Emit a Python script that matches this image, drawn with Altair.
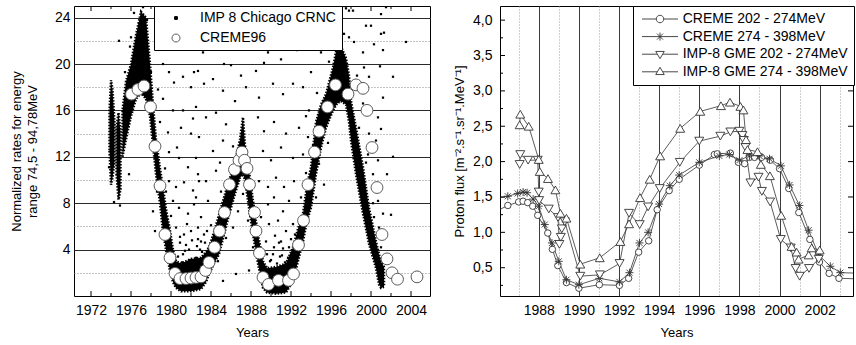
import altair as alt
import pandas as pd

FONT = "Liberation Sans"

# ---------------- left panel: normalized rates 74.5 - 94.78 MeV ----------------
# dense core of the IMP 8 Chicago CRNC record (lower / upper envelope per epoch)
band_year = [1973.85, 1974.0, 1974.15, 1974.35,
             1974.55, 1974.75, 1974.95,
             1975.15, 1975.5, 1976.0, 1976.5, 1977.0, 1977.5, 1977.9, 1978.2, 1978.5,
             1978.9, 1979.2, 1979.5, 1979.85, 1980.2, 1980.5, 1981.0, 1982.0, 1983.0,
             1983.5, 1983.8, 1984.3, 1984.8, 1985.3, 1985.8, 1986.5, 1986.9, 1987.2,
             1987.4, 1987.7, 1988.2, 1988.7, 1989.2, 1989.6, 1990.5, 1991.5, 1992.2,
             1992.7, 1993.2, 1993.6, 1994.0, 1994.5, 1995.0, 1995.5, 1996.2, 1996.6,
             1997.0, 1997.5, 1997.8, 1998.0, 1998.5, 1999.2, 1999.8, 2000.5, 2000.8,
             2001.0, 2001.3]
band_low = [12.5, 9.6, 10.2, 11.5,
            10.5, 8.3, 9.2,
            12.0, 13.5, 15.5, 17.0, 17.5, 17.0, 15.5, 13.0, 10.5,
            8.0, 5.5, 4.0, 2.4, 1.2, 0.7, 0.4, 0.4, 0.6,
            1.2, 1.9, 2.8, 3.6, 5.3, 7.0, 9.1, 10.2, 10.5,
            10.0, 8.2, 5.3, 2.8, 0.7, 0.3, 0.2, 0.3, 1.3,
            3.0, 4.7, 6.5, 7.6, 10.5, 12.8, 14.5, 16.0, 16.6,
            16.8, 16.5, 15.0, 13.4, 10.5, 7.1, 4.5, 2.4, 1.0,
            0.7, 0.8]
band_high = [16.0, 18.6, 17.8, 15.0,
             14.5, 15.8, 14.2,
             16.0, 18.5, 20.0, 22.5, 24.5, 24.0, 20.0, 16.5, 13.5,
             11.0, 9.3, 7.5, 5.9, 4.0, 3.0, 2.8, 3.2, 3.3,
             3.8, 4.2, 5.5, 7.0, 8.5, 9.9, 11.9, 13.5, 15.4,
             13.0, 11.4, 8.2, 5.3, 3.0, 2.4, 2.5, 2.8, 4.2,
             5.8, 7.1, 9.5, 11.1, 15.0, 16.5, 17.4, 19.7, 21.5,
             21.5, 20.5, 19.0, 16.8, 14.5, 11.1, 7.6, 4.7, 3.6,
             3.0, 2.5]
band_seg = ["a"] * 4 + ["b"] * 3 + ["c"] * (len(band_year) - 7)

# isolated IMP 8 Chicago CRNC samples away from the dense core
imp_year = [1973.8, 1974.3, 1974.8, 1975.8, 1974.9, 1975.4, 1976.8, 1976.3, 1977.2, 1977.6,
            1975.9, 1978.0, 1979.2, 1979.8, 1980.3, 1981.2, 1982.0, 1982.7, 1979.2, 1980.2,
            1981.2, 1982.2, 1979.7, 1981.0, 1982.0, 1979.8, 1980.8, 1981.7, 1982.5, 1979.8,
            1980.5, 1981.3, 1982.2, 1982.8, 1980.2, 1980.8, 1981.7, 1982.3, 1983.0, 1980.5,
            1981.3, 1982.0, 1982.7, 1983.3, 1981.2, 1981.8, 1982.5, 1978.2, 1978.4, 1980.9,
            1981.6, 1982.9, 1980.6, 1978.7, 1978.9, 1979.4, 1980.0,
            1983.2, 1985.3, 1986.0, 1989.3, 1991.0, 1989.7, 1982.3, 1983.3, 1984.2, 1985.2,
            1987.5, 1988.5, 1988.8, 1990.2, 1991.2, 1992.2, 1993.2, 1982.5, 1983.5, 1984.5,
            1985.5, 1988.7, 1989.3, 1990.3, 1991.5, 1992.8, 1993.7, 1982.8, 1984.2, 1985.2,
            1989.2, 1990.0, 1991.0, 1992.2, 1993.2, 1982.7, 1983.5, 1984.5, 1988.8, 1989.7,
            1990.5, 1991.3, 1992.3, 1982.5, 1983.7, 1989.7, 1990.3, 1991.2, 1991.8, 1989.0,
            1989.8, 1990.7, 1991.5, 1992.2, 1989.5, 1990.3, 1991.0, 1991.8, 1982.7, 1983.0,
            1986.2, 1986.7, 1987.2, 1987.7, 1988.2, 1985.5, 1984.7, 1986.5, 1985.2, 1987.8,
            1990.9, 1990.0, 1984.0, 1986.8, 1990.8, 1992.6, 1986.4, 1987.0, 1984.9,
            1997.5, 1998.2, 2000.0, 2001.5, 2001.0, 2000.3, 1998.3, 1999.2, 2001.2, 2003.5,
            2002.2, 1999.8, 2001.2, 1999.2, 2000.7, 2001.0, 1999.8, 2000.5, 1999.7, 2000.7,
            2000.2, 2001.0, 2000.7, 2001.2, 2000.3, 2000.8, 2001.3, 1999.8, 2001.0, 2001.5,
            2001.8, 1995.7, 1994.8, 1995.3, 1994.5, 1999.3, 1997.8, 1996.5, 1997.3, 1997.3,
            1997.8, 1999.5, 2001.0, 2001.3, 1994.0, 1995.0, 1993.8, 1994.6, 1995.8, 1996.0,
            2002.0, 2001.6, 2002.2, 1998.6, 2000.9, 1993.5,
            1980.7, 1981.1, 1981.5, 1981.9, 1982.3, 1982.6, 1983.1, 1983.4, 1980.9, 1981.4,
            1982.1, 1982.9, 1983.6, 1989.9, 1990.2, 1990.6, 1991.1, 1991.4, 1991.7, 1992.0,
            1990.4, 1991.2, 1989.6, 1990.8, 1992.4, 1984.0, 1985.0, 1986.0, 1986.2, 1988.0,
            1988.4, 1993.0, 1993.5, 1994.2, 1998.8, 1999.5, 2000.2, 1978.6, 1979.5, 1977.4,
            1976.0]
imp_val = [11.1, 8.1, 22.0, 10.5, 7.8, 19.3, 23.5, 24.4, 24.9, 23.8,
           21.5, 19.3, 20.0, 19.3, 18.4, 18.9, 18.0, 19.4, 17.0, 16.0,
           16.0, 15.3, 14.1, 14.5, 14.0, 12.4, 11.9, 11.1, 11.9, 9.9,
           9.4, 9.8, 9.1, 9.9, 8.2, 7.6, 7.1, 7.9, 6.8, 5.9,
           5.3, 5.6, 4.9, 5.3, 3.6, 4.0, 3.3, 7.3, 5.6, 4.6,
           6.2, 4.0, 12.8, 17.8, 15.0, 11.0, 6.9,
           21.0, 20.0, 19.9, 20.1, 20.4, 21.0, 19.3, 18.3, 18.7, 17.7,
           18.0, 19.4, 17.1, 18.3, 17.4, 18.3, 18.0, 16.3, 15.4, 15.8,
           14.8, 15.4, 14.2, 15.0, 14.0, 14.5, 13.7, 13.7, 12.5, 13.4,
           12.5, 11.7, 12.8, 11.9, 12.2, 10.5, 9.9, 10.8, 9.9, 9.4,
           10.2, 9.4, 9.9, 8.5, 8.2, 7.9, 8.5, 7.3, 8.2, 6.8,
           6.2, 6.5, 5.6, 6.2, 4.7, 4.2, 4.7, 4.2, 5.9, 4.7,
           5.9, 7.3, 8.8, 6.5, 4.2, 5.0, 3.0, 1.9, 1.3, 2.2,
           3.4, 3.1, 22.5, 21.6, 22.9, 21.2, 16.8, 19.0, 11.5,
           24.8, 24.6, 23.3, 24.9, 22.6, 21.7, 21.9, 21.0, 21.2, 21.9,
           18.9, 18.9, 17.1, 16.6, 15.4, 14.4, 14.0, 13.4, 12.2, 11.7,
           10.5, 9.4, 8.2, 7.1, 6.8, 5.9, 5.6, 5.9, 4.2, 3.0,
           2.2, 13.2, 11.4, 9.6, 8.5, 19.7, 22.3, 22.3, 22.6, 25.0,
           24.6, 23.3, 24.3, 22.7, 19.3, 21.0, 16.0, 17.5, 20.2, 23.0,
           7.0, 10.5, 12.0, 19.0, 19.8, 15.5,
           3.4, 2.9, 4.4, 3.1, 2.7, 4.3, 3.8, 4.6, 5.1, 3.9,
           4.8, 3.1, 5.6, 3.0, 3.6, 2.8, 3.5, 2.9, 3.3, 4.9,
           5.2, 4.1, 3.6, 4.6, 5.3, 6.1, 9.0, 11.0, 12.9, 9.5,
           7.3, 8.5, 10.6, 13.0, 14.5, 11.5, 8.0, 9.0, 9.0, 21.5,
           22.3]

# CREME96 model values
c96_year = [1976.05, 1976.7, 1977.3, 1977.95, 1978.4, 1978.9, 1979.4, 1979.9, 1980.4, 1980.9,
            1981.5, 1982.0, 1982.5, 1983.0, 1983.45, 1983.8, 1984.35, 1984.85, 1985.35, 1985.85,
            1986.35, 1986.8, 1987.1, 1987.35, 1987.6, 1987.85, 1988.35, 1988.5, 1988.85, 1989.2,
            1989.75, 1990.75, 1991.75, 1992.25, 1992.75, 1993.25, 1993.7, 1994.35, 1994.8, 1995.65,
            1996.45, 1997.7, 1998.5, 1999.2, 1999.6, 2000.1, 2000.6, 2001.1, 2001.6, 2002.1,
            2002.65, 2004.6]
c96_val = [17.4, 17.8, 18.1, 16.3, 12.9, 9.5, 5.3, 3.3, 1.95, 1.5,
           1.5, 1.55, 1.6, 1.65, 2.2, 2.9, 4.2, 5.6, 7.2, 9.6,
           10.9, 11.7, 12.4, 11.7, 11.0, 9.6, 7.2, 5.6, 3.7, 1.6,
           1.0, 1.35, 1.35, 1.9, 4.4, 6.5, 9.6, 12.4, 14.2, 16.3,
           18.2, 17.4, 18.2, 17.9, 16.0, 12.8, 9.35, 5.3, 3.2, 2.0,
           1.45, 1.65]

left_names = ["IMP 8 Chicago CRNC", "CREME96"]
left_x_labels = [1972, 1976, 1980, 1984, 1988, 1992, 1996, 2000, 2004]
left_x_minor = [1974, 1978, 1982, 1986, 1990, 1994, 1998, 2002]
left_y_ticks = [2, 4, 6, 8, 10, 12, 14, 16, 18, 20, 22, 24]

# ---------------- right panel: proton flux ----------------
s_names = ["CREME 202 - 274MeV", "CREME 274 - 398MeV",
           "IMP-8 GME 202 - 274MeV", "IMP-8 GME 274 - 398MeV"]

c202_year = [1985.9, 1986.46, 1987.0, 1987.22, 1987.45, 1987.7, 1987.95, 1988.45, 1988.68, 1988.95,
             1989.38, 1990.0, 1991.02, 1992.02, 1992.48, 1992.98, 1993.48, 1993.9, 1994.5, 1995.0,
             1996.0, 1996.75, 1996.9, 1997.55, 1997.95, 1998.26, 1998.5, 1998.75, 1999.1, 1999.54,
             2000.0, 2000.46, 2000.96, 2001.51, 2001.99, 2002.47, 2002.96, 2004.2]
c202_val = [1.30, 1.38, 1.43, 1.44, 1.42, 1.37, 1.24, 0.99, 0.76, 0.53,
            0.29, 0.21, 0.26, 0.25, 0.35, 0.72, 0.88, 1.32, 1.59, 1.75,
            1.95, 2.10, 2.11, 2.12, 1.99, 1.97, 2.06, 2.06, 2.06, 2.02,
            1.90, 1.62, 1.28, 0.90, 0.58, 0.42, 0.35, 0.34]

c274_year = [1985.9, 1986.46, 1986.95, 1987.22, 1987.42, 1987.72, 1988.0, 1988.3, 1988.66, 1989.0,
             1989.38, 1990.0, 1991.02, 1992.02, 1992.52, 1993.02, 1993.45, 1994.0, 1994.53, 1995.0,
             1996.0, 1997.0, 1997.5, 1998.0, 1998.5, 1999.0, 1999.5, 2000.07, 2000.5, 2000.99,
             2001.45, 2001.95, 2002.53, 2003.03, 2004.2]
c274_val = [1.48, 1.51, 1.55, 1.57, 1.56, 1.47, 1.37, 1.11, 0.85, 0.59,
            0.33, 0.26, 0.35, 0.30, 0.43, 0.85, 1.00, 1.40, 1.66, 1.81,
            1.99, 2.08, 2.10, 2.02, 2.08, 2.08, 2.04, 1.94, 1.67, 1.38,
            1.03, 0.68, 0.52, 0.43, 0.42]

i202_year = [1987.05, 1987.08, 1987.47, 1987.95, 1988.0, 1988.02, 1988.5, 1988.96, 1989.03, 1989.1,
             1989.15, 1989.3, 1990.07, 1991.05, 1992.03, 1992.5, 1993.03, 1993.45, 1994.03, 1995.03,
             1996.0, 1997.05, 1997.55, 1998.0, 1998.15, 1998.22, 1998.3, 1998.55, 1998.95, 1999.12,
             1999.53, 2000.06, 2000.56, 2000.8, 2001.0, 2001.47, 2001.95]
i202_val = [1.96, 2.10, 2.02, 2.02, 1.57, 1.45, 1.33, 1.21, 0.83, 0.93,
            1.05, 1.15, 0.38, 0.40, 0.56, 1.27, 1.11, 1.36, 1.62, 1.99,
            2.29, 2.36, 2.42, 2.43, 2.37, 2.30, 2.20, 1.70, 1.78, 1.58,
            1.43, 0.90, 0.78, 0.49, 0.38, 0.49, 0.62]

i274_year = [1987.05, 1987.08, 1987.5, 1988.0, 1988.05, 1988.46, 1988.83, 1989.08, 1989.38, 1990.07,
             1991.04, 1992.07, 1992.5, 1993.05, 1993.53, 1994.05, 1995.05, 1996.05, 1997.08, 1997.53,
             1998.05, 1998.2, 1998.33, 1998.4, 1998.9, 1999.07, 1999.52, 2000.08, 2000.6, 2000.85,
             2000.95, 2001.45, 2001.6, 2002.0]
i274_val = [2.52, 2.67, 2.50, 2.03, 1.86, 1.76, 1.60, 1.27, 1.20, 0.55,
            0.64, 0.87, 1.12, 1.49, 1.75, 2.08, 2.47, 2.71, 2.79, 2.84,
            2.78, 2.73, 2.31, 2.17, 2.14, 1.96, 1.80, 1.24, 0.80, 0.72,
            0.62, 0.68, 0.78, 0.75]

right_x_ticks = list(range(1987, 2004))
right_y_major = [0.5, 1.0, 1.5, 2.0, 2.5, 3.0, 3.5, 4.0]
right_y_minor = [0.25, 0.75, 1.25, 1.75, 2.25, 2.75, 3.25, 3.75]

# ---------------- tables ----------------
band_df = pd.DataFrame({"year": band_year, "lo": band_low, "hi": band_high, "seg": band_seg})
imp_df = pd.DataFrame({"year": imp_year, "val": imp_val})
c96_df = pd.DataFrame({"year": c96_year, "val": c96_val})
left_leg_df = pd.DataFrame({"series": left_names})
lx_major_df = pd.DataFrame({"year": left_x_labels})
lx_minor_df = pd.DataFrame({"year": left_x_minor})

frames = []
for name, ys, vs in zip(s_names, [c202_year, c274_year, i202_year, i274_year],
                        [c202_val, c274_val, i202_val, i274_val]):
    frames.append(pd.DataFrame({"series": name, "year": ys, "val": vs, "idx": range(len(ys))}))
flux_df = pd.concat(frames, ignore_index=True)
right_leg_df = pd.DataFrame({"series": s_names})
ry_major_df = pd.DataFrame({"val": right_y_major})
ry_minor_df = pd.DataFrame({"val": right_y_minor})

# ---------------- left panel ----------------
WL, HL = 356, 290
xs_l = alt.Scale(domain=[1970.3, 2005.9], nice=False, zero=False)
ys_l = alt.Scale(domain=[0, 25], nice=False, zero=False)

x_axis_l = alt.Axis(values=left_x_labels, format="d", title="Years", labelFontSize=14,
                    titleFontSize=13, labelPadding=7, titlePadding=9, grid=False)
y_axis_l = alt.Axis(values=left_y_ticks, labelExpr="datum.value % 4 == 0 ? datum.label : ''",
                    title=["Normalized rates for energy", "range 74,5 - 94,78MeV"],
                    labelFontSize=14, titleFontSize=13, titleLineHeight=16,
                    labelPadding=4, titlePadding=15, grid=True, gridWidth=1,
                    gridColor={"condition": {"test": "datum.value % 4 == 0", "value": "#2a2a2a"},
                               "value": "#8a8a8a"},
                    gridDash={"condition": {"test": "datum.value % 4 == 0", "value": []},
                              "value": [1, 2]})

xl = alt.X("year:Q", scale=xs_l, axis=x_axis_l)

# dense core: solid envelope with a speckled outline
band = alt.Chart(band_df).mark_area(color="black", opacity=1, clip=True, stroke="black",
                                    strokeWidth=2.5, strokeDash=[1.5, 1.5]).encode(
    x=xl, y=alt.Y("lo:Q", scale=ys_l, axis=y_axis_l), y2="hi:Q", detail="seg:N")

dots = alt.Chart(imp_df).mark_square(color="black", size=5, opacity=1, clip=True).encode(
    x=xl, y=alt.Y("val:Q", scale=ys_l, axis=y_axis_l))

circles = alt.Chart(c96_df).mark_point(shape="circle", filled=True, fill="white", stroke="#5a5a5a",
                                       strokeWidth=1, size=140, opacity=1, clip=True).encode(
    x=xl, y=alt.Y("val:Q", scale=ys_l, axis=y_axis_l))

left_legend = alt.Legend(orient="none", legendX=80, legendY=0, title=None,
                         strokeColor="black", fillColor="white", padding=5,
                         symbolOffset=10, labelOffset=17, rowPadding=6,
                         labelFontSize=14, labelFont=FONT, labelColor="black", labelLimit=400,
                         symbolSize=64, symbolStrokeWidth=1, symbolOpacity=1, cornerRadius=0)
left_shapes = ["M-0.35,-0.35H0.35V0.35H-0.35Z",
               "M1,0A1,1,0,1,1,-1,0A1,1,0,1,1,1,0Z"]
left_key = alt.Chart(left_leg_df).mark_point(opacity=0).encode(
    shape=alt.Shape("series:N", scale=alt.Scale(domain=left_names, range=left_shapes),
                    legend=left_legend),
    fill=alt.Fill("series:N", scale=alt.Scale(domain=left_names, range=["black", "white"]),
                  legend=left_legend),
    stroke=alt.Stroke("series:N", scale=alt.Scale(domain=left_names, range=["black", "#5a5a5a"]),
                      legend=left_legend))

# inward tick marks on bottom and top edges
tb_major = alt.Chart(lx_major_df).mark_rule(color="black", strokeWidth=1).encode(
    x=xl, y=alt.value(HL), y2=alt.value(HL - 5))
tb_minor = alt.Chart(lx_minor_df).mark_rule(color="black", strokeWidth=1).encode(
    x=xl, y=alt.value(HL), y2=alt.value(HL - 3))
tt_major = alt.Chart(lx_major_df).mark_rule(color="black", strokeWidth=1).encode(
    x=xl, y=alt.value(0), y2=alt.value(5))
tt_minor = alt.Chart(lx_minor_df).mark_rule(color="black", strokeWidth=1).encode(
    x=xl, y=alt.value(0), y2=alt.value(3))

left = alt.layer(band, dots, circles, tb_major, tb_minor, tt_major, tt_minor, left_key).properties(
    width=WL, height=HL)

# ---------------- right panel ----------------
WR, HR = 353, 290
xs_r = alt.Scale(domain=[1986.07, 2003.66], nice=False, zero=False)
ys_r = alt.Scale(domain=[0.1, 4.2], nice=False, zero=False)

x_axis_r = alt.Axis(values=right_x_ticks, format="d",
                    labelExpr="datum.value % 2 == 0 ? datum.label : ''",
                    title="Years", labelFontSize=14, titleFontSize=13, labelPadding=7,
                    titlePadding=9, grid=True, gridWidth=1,
                    gridColor={"condition": {"test": "datum.value % 2 == 0", "value": "#3c3c3c"},
                               "value": "#9a9a9a"},
                    gridDash={"condition": {"test": "datum.value % 2 == 0", "value": []},
                              "value": [1, 2]})
y_axis_r = alt.Axis(values=right_y_major, labelExpr="replace(format(datum.value, '.1f'), '.', ',')",
                    title="Proton flux [m⁻².s⁻¹.sr⁻¹.MeV⁻¹]", labelFontSize=14, titleFontSize=13,
                    labelPadding=8, titlePadding=6, grid=False)

xr = alt.X("year:Q", scale=xs_r, axis=x_axis_r)
yr = alt.Y("val:Q", scale=ys_r, axis=y_axis_r)

lines = alt.Chart(flux_df).mark_line(color="#333333", strokeWidth=0.8, clip=True).encode(
    x=xr, y=yr, detail="series:N", order="idx:Q")

ASTERISK = "M-1,0H1M0,-1V1M-0.75,-0.75L0.75,0.75M-0.75,0.75L0.75,-0.75"
marker_specs = [
    (s_names[0], dict(shape="circle", size=42, filled=True, fill="white")),
    (s_names[1], dict(shape=ASTERISK, size=64, filled=False)),
    (s_names[2], dict(shape="triangle-down", size=80, filled=True, fill="white")),
    (s_names[3], dict(shape="triangle-up", size=80, filled=True, fill="white")),
]
marker_layers = []
for name, kw in marker_specs:
    marker_layers.append(
        alt.Chart(flux_df).transform_filter(alt.datum.series == name).mark_point(
            stroke="#333333", strokeWidth=0.9, opacity=1, clip=True, **kw).encode(x=xr, y=yr))

right_legend = alt.Legend(orient="none", legendX=133, legendY=0, title=None,
                          strokeColor="black", fillColor="white", padding=6,
                          symbolOffset=14, labelOffset=15.7, rowPadding=3.6,
                          labelFontSize=14, labelFont=FONT, labelColor="black", labelLimit=400,
                          symbolSize=100, symbolStrokeWidth=0.9, symbolStrokeColor="#333333",
                          symbolOpacity=1, cornerRadius=0)
right_shapes = [
    "M-3.6,0H-0.75M0.75,0H3.6M0.75,0A0.75,0.75,0,1,1,-0.75,0A0.75,0.75,0,1,1,0.75,0",
    "M-3.6,0H3.6M0,-0.8V0.8M-0.6,-0.6L0.6,0.6M-0.6,0.6L0.6,-0.6",
    "M-3.6,0H-0.6M0.6,0H3.6M-0.85,-0.55L0.85,-0.55L0,0.9Z",
    "M-3.6,0H-0.6M0.6,0H3.6M-0.85,0.55L0.85,0.55L0,-0.9Z",
]
right_key = alt.Chart(right_leg_df).mark_point(opacity=0, filled=False, color="#333333").encode(
    shape=alt.Shape("series:N", scale=alt.Scale(domain=s_names, range=right_shapes),
                    legend=right_legend))

# inward tick marks on left and right edges
ty_l_major = alt.Chart(ry_major_df).mark_rule(color="black", strokeWidth=1).encode(
    y=yr, x=alt.value(0), x2=alt.value(5))
ty_l_minor = alt.Chart(ry_minor_df).mark_rule(color="black", strokeWidth=1).encode(
    y=yr, x=alt.value(0), x2=alt.value(3))
ty_r_major = alt.Chart(ry_major_df).mark_rule(color="black", strokeWidth=1).encode(
    y=yr, x=alt.value(WR), x2=alt.value(WR - 5))

right = alt.layer(lines, *marker_layers, ty_l_major, ty_l_minor, ty_r_major, right_key).properties(
    width=WR, height=HR)

chart = (
    alt.hconcat(left, right, spacing=22)
    .resolve_scale(shape="independent", fill="independent", stroke="independent")
    .resolve_legend(shape="independent", fill="independent", stroke="independent")
    .properties(padding={"left": 9, "top": 5, "right": 0, "bottom": 0}, background="white")
    .configure_view(stroke="black", strokeWidth=1)
    .configure_axis(labelFont=FONT, titleFont=FONT, titleFontWeight="normal",
                    labelColor="black", titleColor="black", domain=False, ticks=False)
)

chart.save("out.html", embed_options={"renderer": "svg", "actions": False})
